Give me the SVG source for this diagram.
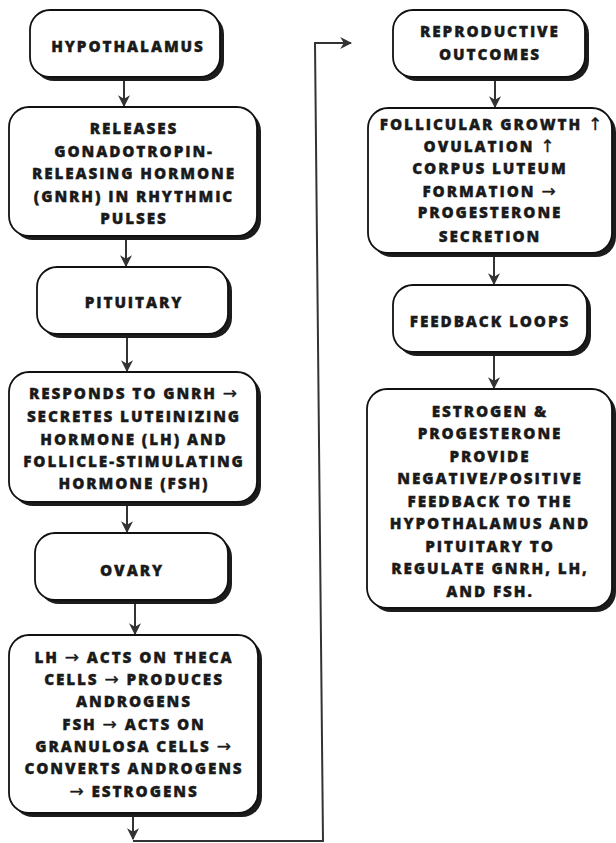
<svg xmlns="http://www.w3.org/2000/svg" width="616" height="843" viewBox="0 0 616 843">
<defs>
<style>
.sh{fill:#1c1c1c}
.bx{fill:#fff;stroke:#111;stroke-width:1.8}
.t{font-family:"Open Sans","Liberation Sans",sans-serif;font-weight:800;font-size:15.3px;letter-spacing:1.9px;fill:#1a1a1a;stroke:#1a1a1a;stroke-width:0.35;text-anchor:middle}
.a{font-family:"DejaVu Sans",sans-serif;font-weight:normal;font-size:17px}
.c{fill:none;stroke:#333;stroke-width:2}
</style>
<marker id="ah" viewBox="0 0 10 10" refX="9" refY="5" markerWidth="6" markerHeight="6" orient="auto" markerUnits="strokeWidth">
<path d="M0,0 L10,5 L0,10 L3,5 z" fill="#333"/>
</marker>
</defs>
<rect width="616" height="843" fill="#fff"/>
<g id="connectors">
<path class="c" d="M124,77 V106" marker-end="url(#ah)"/>
<path class="c" d="M126,236 V266" marker-end="url(#ah)"/>
<path class="c" d="M127,334 V371" marker-end="url(#ah)"/>
<path class="c" d="M127,502 V532" marker-end="url(#ah)"/>
<path class="c" d="M135,600 V634" marker-end="url(#ah)"/>
<path class="c" d="M133,813 V839" marker-end="url(#ah)"/>
<path class="c" d="M133,841 H323 L315,43 H351" marker-end="url(#ah)"/>
<path class="c" d="M495,77 V107" marker-end="url(#ah)"/>
<path class="c" d="M494,253 V284" marker-end="url(#ah)"/>
<path class="c" d="M494,352 V388" marker-end="url(#ah)"/>
</g>
<g id="n1">
<rect class="sh" x="34" y="14" width="190" height="67" rx="20"/>
<rect class="bx" x="30" y="10" width="190" height="67" rx="20"/>
<text class="t" x="128" y="52">HYPOTHALAMUS</text>
</g>
<g id="n2">
<rect class="sh" x="13" y="111" width="248" height="129" rx="20"/>
<rect class="bx" x="9" y="107" width="248" height="129" rx="20"/>
<text class="t" x="134" y="134">RELEASES</text>
<text class="t" x="134" y="157">GONADOTROPIN-</text>
<text class="t" x="134" y="179">RELEASING HORMONE</text>
<text class="t" x="134" y="202">(GNRH) IN RHYTHMIC</text>
<text class="t" x="134" y="224">PULSES</text>
</g>
<g id="n3">
<rect class="sh" x="41" y="271" width="191" height="67" rx="20"/>
<rect class="bx" x="37" y="267" width="191" height="67" rx="20"/>
<text class="t" x="134" y="308">PITUITARY</text>
</g>
<g id="n4">
<rect class="sh" x="13" y="376" width="248" height="130" rx="20"/>
<rect class="bx" x="9" y="372" width="248" height="130" rx="20"/>
<text class="t" x="134" y="399">RESPONDS TO GNRH <tspan class="a">→</tspan></text>
<text class="t" x="134" y="422">SECRETES LUTEINIZING</text>
<text class="t" x="134" y="445">HORMONE (LH) AND</text>
<text class="t" x="134" y="467">FOLLICLE-STIMULATING</text>
<text class="t" x="134" y="489">HORMONE (FSH)</text>
</g>
<g id="n5">
<rect class="sh" x="39" y="537" width="193" height="67" rx="20"/>
<rect class="bx" x="35" y="533" width="193" height="67" rx="20"/>
<text class="t" x="132" y="576">OVARY</text>
</g>
<g id="n6">
<rect class="sh" x="13" y="639" width="249" height="178" rx="20"/>
<rect class="bx" x="9" y="635" width="249" height="178" rx="20"/>
<text class="t" x="134" y="663">LH <tspan class="a">→</tspan> ACTS ON THECA</text>
<text class="t" x="134" y="685">CELLS <tspan class="a">→</tspan> PRODUCES</text>
<text class="t" x="134" y="707">ANDROGENS</text>
<text class="t" x="134" y="730">FSH <tspan class="a">→</tspan> ACTS ON</text>
<text class="t" x="134" y="752">GRANULOSA CELLS <tspan class="a">→</tspan></text>
<text class="t" x="134" y="774">CONVERTS ANDROGENS</text>
<text class="t" x="134" y="797"><tspan class="a">→</tspan> ESTROGENS</text>
</g>
<g id="n7">
<rect class="sh" x="397" y="14" width="192" height="67" rx="20"/>
<rect class="bx" x="393" y="10" width="192" height="67" rx="20"/>
<text class="t" x="490" y="37">REPRODUCTIVE</text>
<text class="t" x="490" y="60">OUTCOMES</text>
</g>
<g id="n8">
<rect class="sh" x="372" y="112" width="244" height="145" rx="20"/>
<rect class="bx" x="368" y="108" width="244" height="145" rx="20"/>
<text class="t" x="492" y="130">FOLLICULAR GROWTH <tspan class="a">↑</tspan></text>
<text class="t" x="490" y="152">OVULATION <tspan class="a">↑</tspan></text>
<text class="t" x="490" y="174">CORPUS LUTEUM</text>
<text class="t" x="490" y="197">FORMATION <tspan class="a">→</tspan></text>
<text class="t" x="490" y="218">PROGESTERONE</text>
<text class="t" x="490" y="242">SECRETION</text>
</g>
<g id="n9">
<rect class="sh" x="397" y="289" width="194" height="67" rx="20"/>
<rect class="bx" x="393" y="285" width="194" height="67" rx="20"/>
<text class="t" x="490" y="327">FEEDBACK LOOPS</text>
</g>
<g id="n10">
<rect class="sh" x="371" y="393" width="245" height="219" rx="20"/>
<rect class="bx" x="367" y="389" width="245" height="219" rx="20"/>
<text class="t" x="490" y="417">ESTROGEN &amp;</text>
<text class="t" x="490" y="439">PROGESTERONE</text>
<text class="t" x="490" y="462">PROVIDE</text>
<text class="t" x="490" y="484">NEGATIVE/POSITIVE</text>
<text class="t" x="490" y="507">FEEDBACK TO THE</text>
<text class="t" x="490" y="529">HYPOTHALAMUS AND</text>
<text class="t" x="490" y="552">PITUITARY TO</text>
<text class="t" x="490" y="574">REGULATE GNRH, LH,</text>
<text class="t" x="490" y="597">AND FSH.</text>
</g>
</svg>
